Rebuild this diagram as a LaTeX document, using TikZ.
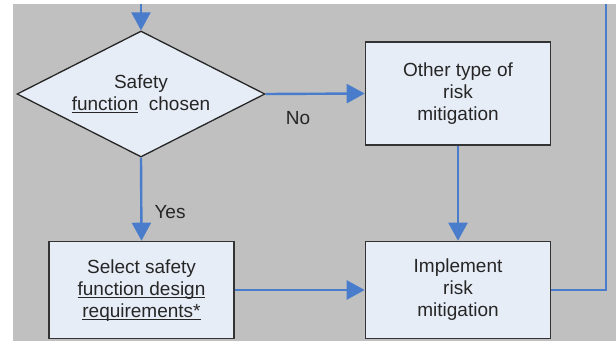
\documentclass[tikz,border=0pt]{standalone}
\usepackage{fontspec}
\setmainfont{Liberation Sans}
\usepackage{xcolor}
\usetikzlibrary{arrows.meta, positioning, calc, shapes.geometric}
\definecolor{flowblue}{RGB}{74,124,204}
\definecolor{boxfill}{RGB}{231,237,247}
\definecolor{panelgray}{RGB}{192,192,192}
\tikzset{
  process/.style={draw=black!80, line width=1.6pt, fill=boxfill, minimum width=185pt, minimum height=97pt, align=center, inner sep=0pt},
  decision/.style={draw=black!85, diamond, shape aspect=1.97, line width=1.3pt, fill=boxfill, minimum width=248pt, minimum height=126pt, align=center, inner sep=0pt},
  flow/.style={-{Triangle[length=18pt, width=19pt]}, draw=flowblue, line width=2.4pt},
  plainflow/.style={draw=flowblue, line width=2.4pt},
  answer/.style={inner sep=0pt}
}
\newcommand{\lined}[1]{\underline{\smash{#1}}}

\begin{document}
\begin{tikzpicture}[x=1pt, y=-1pt, font=\fontsize{19}{22}\selectfont, text=black!85]
        % Panel
        \useasboundingbox (0,0) rectangle (616,341);
        \fill[panelgray] (13,4) rectangle (616,341);

        % Steps
        \node[decision] (choose) at (141,94) {Safety\\\lined{function}\ \ chosen};
        \node[process, minimum height=103pt] (other) at (458,93.5) {Other type of\\risk\\mitigation};
        \node[process] (select) at (141.5,290) {Select safety\\\lined{function design}\\\lined{requirements*}};
        \node[process] (implement) at (458,290) {Implement\\risk\\mitigation};

        % Loose ends
        \coordinate (entry) at (141,4);
        \coordinate (back) at (606,4);

        % Links
        \draw[flow] (entry) -- (choose.north);
        \draw[flow] (choose.east) -- (other.west);
        \draw[flow] (choose.south) -- (select.north);
        \draw[flow] (other.south) -- (implement.north);
        \draw[flow] (select.east) -- (implement.west);
        \draw[plainflow] (implement.east) -| (back);

        % Answers
        \node[answer] (no) at (298,118) {No};
        \node[answer] (yes) at (170,212) {Yes};
    \end{tikzpicture}
\end{document}
